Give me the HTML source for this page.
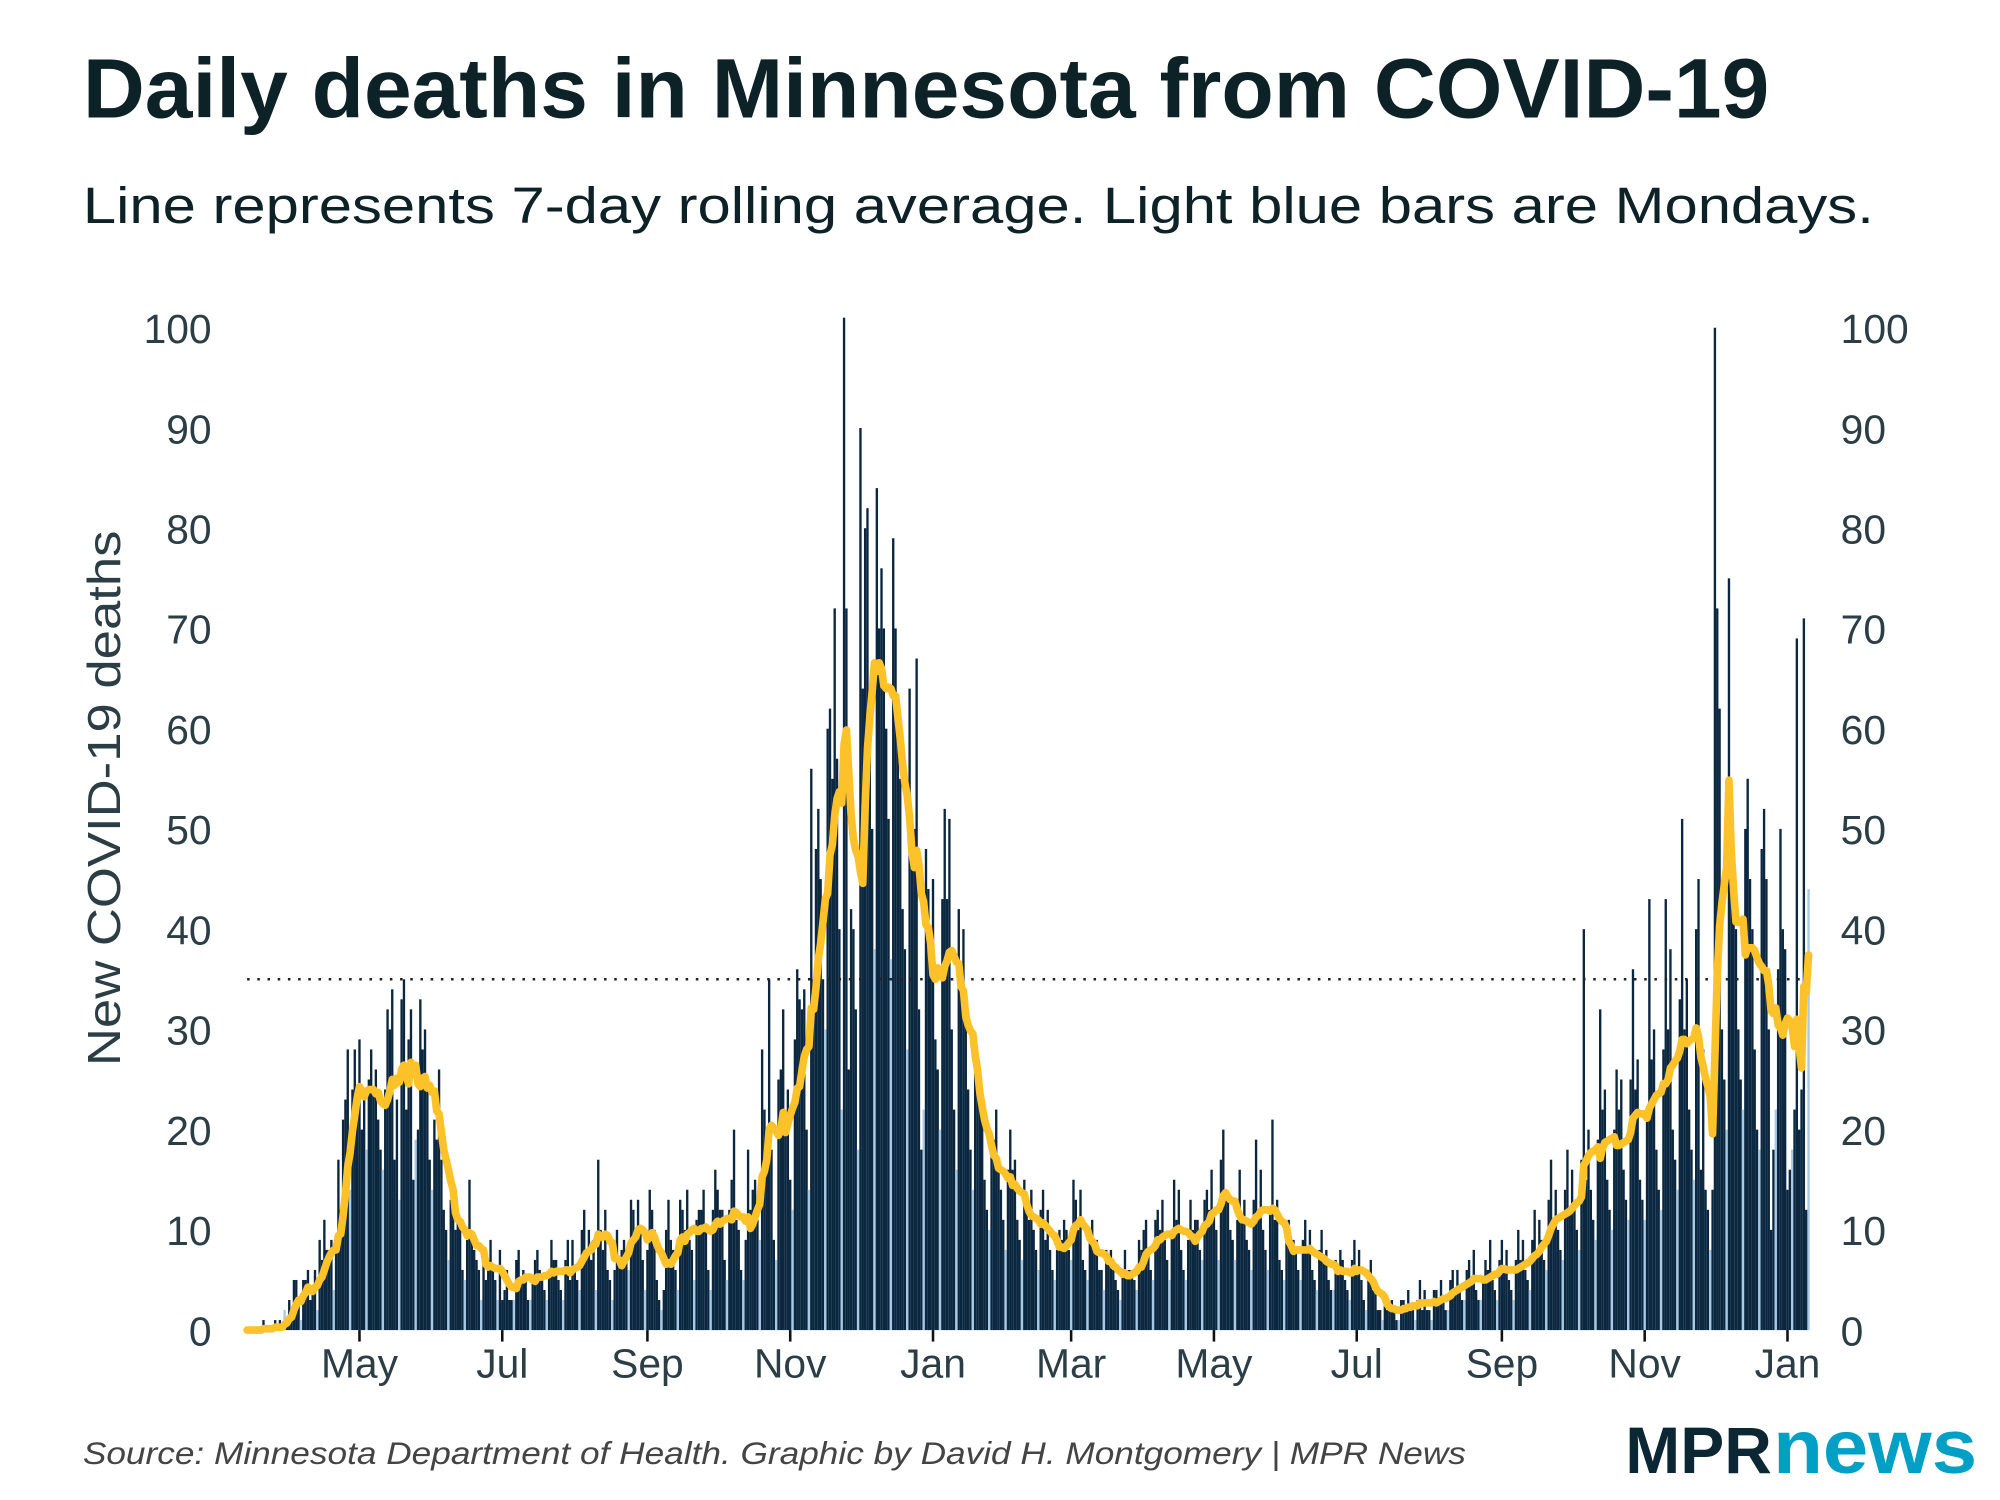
<!DOCTYPE html>
<html><head><meta charset="utf-8"><style>
html,body{margin:0;padding:0;background:#fff;}
svg{display:block;}
text{font-family:"Liberation Sans",sans-serif;}
</style></head><body>
<svg id="chart" width="2000" height="1500" viewBox="0 0 1558 1168" preserveAspectRatio="none" xmlns="http://www.w3.org/2000/svg">
<rect width="1558" height="1168" fill="#fff"/>
<g transform="scale(0.993)">
<text x="65" y="92" font-size="66" font-weight="bold" fill="#0d2226" textLength="1323" lengthAdjust="spacingAndGlyphs">Daily deaths in Minnesota from COVID-19</text>
<text x="65" y="175" font-size="40" fill="#0d2226" textLength="1405" lengthAdjust="spacingAndGlyphs">Line represents 7-day rolling average. Light blue bars are Mondays.</text>
<text transform="translate(94,626) rotate(-90)" text-anchor="middle" font-size="36" fill="#2c3e45" textLength="420" lengthAdjust="spacingAndGlyphs">New COVID-19 deaths</text>
<g id="yticks"></g>
<g id="bars"></g>
<line id="refline" stroke="#222" stroke-width="2" stroke-dasharray="2,6"/>
<path id="avgline" fill="none" stroke="#fdc12a" stroke-width="6" stroke-linejoin="round" stroke-linecap="round"/>
<g id="xticks"></g>
<text x="65" y="1148" font-size="25" font-style="italic" fill="#444" textLength="1085" lengthAdjust="spacingAndGlyphs">Source: Minnesota Department of Health. Graphic by David H. Montgomery | MPR News</text>
<g>
<text x="1275" y="1155" font-size="52" font-weight="bold" fill="#0b2733" textLength="115" lengthAdjust="spacingAndGlyphs">MPR</text>
<text x="1391" y="1155" font-size="60" font-weight="bold" fill="#00a0c6" textLength="160" lengthAdjust="spacingAndGlyphs">news</text>
</g>
</g>
</svg>
<script>
const startDate = [2020, 2, 14];
const deaths = [
0,0,0,0,0,0,0, 1,0,0,0,0,1,0, 1,0,2,1,3,2,5, 5,3,1,5,5,6,3, 4,6,2,9,7,11,8, 8,9,4,9,17,12,21,
23,28,14,24,28,24,29, 20,24,18,25,28,24,26, 21,18,16,24,32,30,34, 17,23,13,33,35,22,29, 32,15,19,20,33,28,30, 24,17,14,21,19,26,17,
12,10,7,13,13,10,12, 11,6,5,9,15,9,8, 7,6,3,8,5,7,9, 6,5,3,8,3,4,6, 3,3,3,7,8,5,6, 5,3,3,5,7,8,6,
5,4,3,6,9,7,7, 5,4,3,7,9,5,9, 6,5,4,10,12,8,10, 7,9,4,17,10,8,12, 6,5,3,6,10,7,8, 9,8,6,13,12,9,13,
10,7,4,8,14,12,10, 5,3,2,4,10,13,9, 8,6,4,13,12,10,14, 9,8,5,11,12,12,14, 10,6,4,12,16,14,12, 12,7,5,12,15,20,11,
10,6,5,9,18,12,14, 15,11,9,28,22,20,35, 18,9,7,25,26,32,21, 24,15,12,29,36,33,32, 34,20,14,56,35,48,52, 45,35,30,60,62,55,72,
57,40,22,101,72,26,42, 40,32,18,90,64,80,82, 62,50,38,84,70,76,70, 60,51,37,79,70,61,55, 42,38,28,64,46,50,67, 32,18,22,48,44,39,45,
29,26,20,43,52,43,51, 30,22,16,42,36,40,33, 24,18,14,27,26,24,23, 15,12,10,19,19,22,16, 14,11,8,16,20,16,17, 11,9,7,15,13,11,14,
10,8,6,12,14,9,12, 8,6,5,8,10,9,11, 10,8,7,15,13,10,14, 7,6,5,9,11,8,9, 6,6,4,8,7,8,6, 5,4,3,6,8,6,6,
6,5,4,9,8,10,11, 8,6,5,11,12,10,13, 9,7,5,10,15,11,14, 8,6,5,9,13,10,11, 11,8,7,13,14,12,16, 12,10,7,17,20,14,13,
10,9,7,11,16,11,13, 9,8,6,13,19,12,16, 10,8,6,12,21,11,13, 7,6,5,9,11,8,9, 8,6,5,9,11,8,10, 6,5,4,8,10,7,8,
5,4,4,7,6,8,7, 5,4,3,7,9,6,8, 5,3,2,5,7,4,4, 2,2,1,3,2,2,3, 2,1,1,3,3,2,4, 2,2,1,3,5,2,4,
2,2,1,4,4,3,5, 3,2,2,5,6,4,6, 4,3,3,6,7,5,8, 4,3,3,5,7,6,9, 5,4,3,7,9,6,8, 5,4,3,7,10,7,9,
6,5,4,9,12,8,11, 9,7,6,13,17,11,14, 10,8,7,14,18,12,16, 12,10,8,17,40,15,20, 14,11,9,19,32,22,24, 15,12,10,20,26,22,25,
16,13,11,25,36,24,27, 15,13,11,22,43,27,30, 18,14,12,28,43,30,38, 20,17,14,33,51,30,35, 22,18,15,40,45,16,28, 14,12,8,14,100,72,62,
30,25,20,75,50,45,40, 30,25,22,50,55,45,40, 28,20,18,48,52,45,30, 10,18,22,36,50,40,38, 14,16,18,22,69,20,24, 71,12,44
];
const yTicks = [0,10,20,30,40,50,60,70,80,90,100];
const xTickLabels = ["May","Jul","Sep","Nov","Jan","Mar","May","Jul","Sep","Nov","Jan"];
const xTickDates = [[2020,4,1],[2020,6,1],[2020,8,1],[2020,10,1],[2021,0,1],[2021,2,1],[2021,4,1],[2021,6,1],[2021,8,1],[2021,10,1],[2022,0,1]];
const refValue = 35;

const NS="http://www.w3.org/2000/svg";
const DAY=86400000;
const t0=Date.UTC(2020,4,1);
const pxPerDay=1.8365;
function xDate(d){return 282+((d-t0)/DAY)*pxPerDay;}
function y(v){return 1043-v*7.86;}
const start=Date.UTC(startDate[0],startDate[1],startDate[2]);
function dateOf(i){return start+i*DAY;}
function mk(tag,attrs,parent){const e=document.createElementNS(NS,tag);for(const k in attrs)e.setAttribute(k,attrs[k]);parent.appendChild(e);return e;}

const yt=document.getElementById('yticks');
yTicks.forEach(v=>{
  const l=mk('text',{x:166,y:y(v)+12,'text-anchor':'end','font-size':32,fill:'#2c3e45'},yt);
  
  
  l.textContent=v;
  const r=mk('text',{x:1444,y:y(v)+12,'text-anchor':'start','font-size':32,fill:'#2c3e45'},yt);
  
  
  r.textContent=v;
});

const bars=document.getElementById('bars');
const bw=1.85;
deaths.forEach((v,i)=>{
  if(v<=0)return;
  const d=dateOf(i);
  const mon=new Date(d).getUTCDay()===1;
  const b=mk('rect',{x:xDate(d)-bw/2,y:y(v),width:bw,height:y(0)-y(v),fill:mon?'#a8c8e4':'#0b2740'},bars);
  
  
});

const x0=xDate(dateOf(0)), x1=xDate(dateOf(deaths.length-1));
const rl=document.getElementById('refline');
rl.setAttribute('x1',x0);rl.setAttribute('x2',x1);rl.setAttribute('y1',y(refValue));rl.setAttribute('y2',y(refValue));

let p='';
deaths.forEach((v,i)=>{
  let s=0;
  for(let k=Math.max(0,i-6);k<=i;k++){s+=deaths[k];}
  const a=s/7;
  p+=(i?'L':'M')+xDate(dateOf(i)).toFixed(2)+','+y(a).toFixed(2);
});
document.getElementById('avgline').setAttribute('d',p);

const xt=document.getElementById('xticks');
xTickDates.forEach((dt,i)=>{
  const xx=xDate(Date.UTC(dt[0],dt[1],dt[2]));
  const t=mk('line',{x1:xx,x2:xx,y1:1043,y2:1052,stroke:'#111','stroke-width':2},xt);
  
  
  const l=mk('text',{x:xx,y:1080,'text-anchor':'middle','font-size':32,fill:'#2c3e45'},xt);
  
  
  l.textContent=xTickLabels[i];
});
</script>
</body></html>
